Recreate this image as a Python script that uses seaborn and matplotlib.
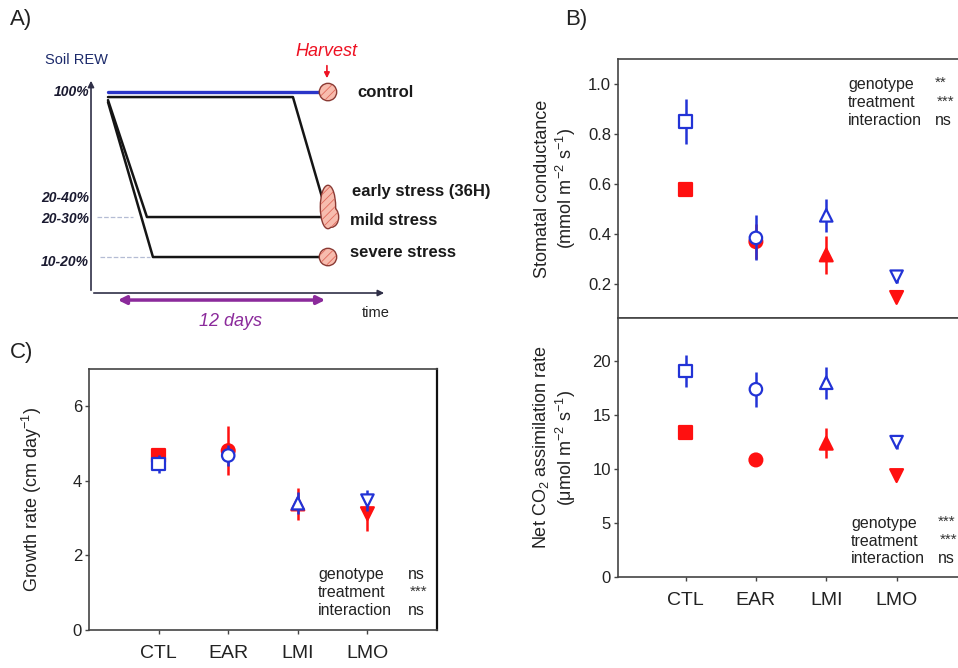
import numpy as np
import pandas as pd
import matplotlib
matplotlib.use('Agg')
import matplotlib.pyplot as plt
from matplotlib.patches import Ellipse
import seaborn as sns

# data
genotypes = ['CTL', 'EAR', 'LMI', 'LMO']
marker_map = {'CTL': 's', 'EAR': 'o', 'LMI': '^', 'LMO': 'v'}

gs_ctrl = [0.85, 0.385, 0.475, 0.23]
gs_ctrl_err = [0.09, 0.09, 0.065, 0.025]
gs_stress = [0.577, 0.37, 0.317, 0.147]
gs_stress_err = [0.0, 0.07, 0.075, 0.0]

assim_ctrl = [19.07, 17.4, 18.0, 12.5]
assim_ctrl_err = [1.5, 1.6, 1.5, 0.6]
assim_stress = [13.4, 10.85, 12.4, 9.4]
assim_stress_err = [0.3, 0.3, 1.4, 0.3]

growth_ctrl = [4.45, 4.68, 3.40, 3.47]
growth_ctrl_err = [0.25, 0.27, 0.30, 0.28]
growth_stress = [4.68, 4.81, 3.38, 3.12]
growth_stress_err = [0.1, 0.66, 0.44, 0.47]

stats_gs = [('genotype', '**'), ('treatment', '***'), ('interaction', 'ns')]
stats_assim = [('genotype', '***'), ('treatment', '***'), ('interaction', 'ns')]
stats_growth = [('genotype', 'ns'), ('treatment', '***'), ('interaction', 'ns')]

# schematic (panel A): time in days, soil water level in schematic units
control_t = [0, 11.98]
control_y = [100, 100]
early_t = [0, 10.45, 12.09]
early_y = [97.5, 97.5, 47.8]
mild_t = [0, 2.2, 12.09]
mild_y = [96, 37.8, 37.8]
severe_t = [0, 2.54, 12.09]
severe_y = [95, 17.9, 17.9]
rew_labels = ['100%', '20-40%', '20-30%', '10-20%']
rew_label_y = [100, 47.3, 36.8, 15.4]
treat_labels = ['control', 'early stress (36H)', 'mild stress', 'severe stress']
treat_label_t = [14.07, 13.8, 13.7, 13.7]
treat_label_y = [100, 50.7, 36.3, 20.4]

BLUE = '#2233d6'
RED = '#ff1010'

sns.set_theme(style='ticks')
plt.rcParams['font.family'] = ['Liberation Sans', 'DejaVu Sans']
plt.rcParams['mathtext.default'] = 'regular'
plt.rcParams['axes.edgecolor'] = '#444444'
plt.rcParams['axes.linewidth'] = 1.2
plt.rcParams['hatch.linewidth'] = 0.6

pos = np.arange(len(genotypes))


def make_df(ctrl, ctrl_err, stress, stress_err):
	return pd.DataFrame({'genotype': genotypes * 2,
						 'pos': list(pos) * 2,
						 'treatment': ['control'] * 4 + ['stress'] * 4,
						 'value': ctrl + stress,
						 'err': ctrl_err + stress_err})


def draw_points(ax, df):
	z = 3
	for treatment, color, face, size in [('stress', RED, RED, 85),
										 ('control', BLUE, 'white', 80)]:
		sub = df[df['treatment'] == treatment]
		ax.errorbar(sub['pos'], sub['value'], yerr=sub['err'], fmt='none',
					ecolor=color, elinewidth=1.8, capsize=0, zorder=z)
		sns.scatterplot(data=sub, x='pos', y='value', style='genotype',
						markers=marker_map, style_order=genotypes,
						color=color, facecolor=face, edgecolor=color,
						linewidth=1.6, s=size, legend=False, ax=ax, zorder=z + 1)
		z += 2
	ax.set_xlabel('')


def add_stats(ax, rows, x0, x1, y0, dy):
	for i, (name, sig) in enumerate(rows):
		y = y0 - i * dy
		ax.text(x0, y, name, transform=ax.transAxes, fontsize=11.5,
				va='center', ha='left', color='#222222')
		if sig == 'ns':
			ax.text(x1, y, sig, transform=ax.transAxes, fontsize=11.5,
					va='center', ha='left', color='#222222')
		else:
			ax.text(x1 + 0.006 * i, y + 0.004, sig, transform=ax.transAxes,
					fontsize=11, va='center', ha='left', color='#333333')


def style_axis(ax):
	ax.tick_params(axis='both', direction='out', length=3, width=1,
				   labelsize=12, pad=2, colors='#444444', labelcolor='#222222')


def harvest_mark(ax, xy, w, h):
	# outline underneath, hatched fill on top so touching marks merge
	ax.add_patch(Ellipse(xy, w, h, facecolor='none', edgecolor='#8a3a34',
						 lw=2, zorder=5))
	ax.add_patch(Ellipse(xy, w, h, facecolor='#f7bcae', edgecolor='#e06a5c',
						 hatch='////', lw=0, zorder=6))


fig = plt.figure(figsize=(9.58, 6.68), dpi=100)

# ---- panel A (schematic)
axA = fig.add_axes([0, 0.5, 0.501, 0.5])
axA.set_xlim(-6.102, 21.017)
axA.set_ylim(-20.4, 145.8)
axA.axis('off')

axA.annotate('', xy=(-0.96, 107), xytext=(-0.96, 0),
			 arrowprops=dict(arrowstyle='-|>', color='#303048', lw=1.2, mutation_scale=9))
axA.annotate('', xy=(15.76, 0), xytext=(-0.96, 0),
			 arrowprops=dict(arrowstyle='-|>', color='#303048', lw=1.2, mutation_scale=9))
axA.plot([-0.62, 1.41], [37.8, 37.8], ls='--', color='#b4bcd4', lw=0.9)
axA.plot([-0.45, 2.4], [17.9, 17.9], ls='--', color='#b4bcd4', lw=0.9)

axA.plot(control_t, control_y, color='#2a35c8', lw=2.4)
for t, y in [(early_t, early_y), (mild_t, mild_y), (severe_t, severe_y)]:
	axA.plot(t, y, color='#151515', lw=1.8)

harvest_mark(axA, (12.43, 100), 0.904, 7.96)
harvest_mark(axA, (12.62, 37.8), 0.75, 9.5)
harvest_mark(axA, (12.43, 42.8), 0.79, 20.9)
harvest_mark(axA, (12.43, 17.9), 0.904, 7.96)

for lab, y in zip(rew_labels, rew_label_y):
	axA.text(-1.07, y, lab, ha='right', va='center', fontsize=10,
			 fontweight='bold', fontstyle='italic', color='#1a1a30')
for lab, t, y in zip(treat_labels, treat_label_t, treat_label_y):
	axA.text(t, y, lab, ha='left', va='center', fontsize=12,
			 fontweight='bold', color='#1a1a1a')

axA.text(-3.56, 116, 'Soil REW', ha='left', va='center', fontsize=10.5, color='#1c2a6b')
axA.text(12.37, 120, 'Harvest', ha='center', va='center', fontsize=13,
		 fontstyle='italic', color='#ee1122')
axA.annotate('', xy=(12.37, 105.5), xytext=(12.37, 114.5),
			 arrowprops=dict(arrowstyle='-|>', color='#ee1122', lw=1.2, mutation_scale=8))
axA.annotate('', xy=(12.43, -3.5), xytext=(0.4, -3.5),
			 arrowprops=dict(arrowstyle='<|-|>', color='#8b2a9b', lw=2.5, mutation_scale=12))
axA.text(6.9, -14.4, '12 days', ha='center', va='center', fontsize=13,
		 fontstyle='italic', color='#8b2a9b')
axA.text(14.35, -10, 'time', ha='left', va='center', fontsize=10.5, color='#222222')

# ---- panel B top: stomatal conductance
axB1 = fig.add_axes([0.6451, 0.5240, 0.3591, 0.3877])
draw_points(axB1, make_df(gs_ctrl, gs_ctrl_err, gs_stress, gs_stress_err))
axB1.set_xlim(-0.96, 3.93)
axB1.set_ylim(0.065, 1.1)
axB1.set_yticks([0.2, 0.4, 0.6, 0.8, 1.0])
axB1.set_yticklabels(['0.2', '0.4', '0.6', '0.8', '1.0'])
axB1.set_xticks([])
axB1.set_ylabel('Stomatal conductance\n(mmol m$^{-2}$ s$^{-1}$)', fontsize=13, color='#222222')
axB1.yaxis.set_label_coords(-0.115, 0.5)
style_axis(axB1)
add_stats(axB1, stats_gs, 0.669, 0.92, 0.903, 0.071)

# ---- panel B bottom: net CO2 assimilation
axB2 = fig.add_axes([0.6451, 0.1362, 0.3591, 0.3877])
draw_points(axB2, make_df(assim_ctrl, assim_ctrl_err, assim_stress, assim_stress_err))
axB2.set_xlim(-0.96, 3.93)
axB2.set_ylim(0, 24)
axB2.set_yticks([0, 5, 10, 15, 20])
axB2.set_xticks(pos)
axB2.set_xticklabels(genotypes)
axB2.set_ylabel('Net CO$_2$ assimilation rate\n(μmol m$^{-2}$ s$^{-1}$)', fontsize=13, color='#222222')
axB2.yaxis.set_label_coords(-0.115, 0.5)
style_axis(axB2)
axB2.tick_params(axis='x', labelsize=14, pad=8)
add_stats(axB2, stats_assim, 0.677, 0.93, 0.208, 0.069)

# ---- panel C: growth rate
axC = fig.add_axes([0.0929, 0.0569, 0.3633, 0.3907])
draw_points(axC, make_df(growth_ctrl, growth_ctrl_err, growth_stress, growth_stress_err))
axC.set_xlim(-1, 4)
axC.set_ylim(0, 7)
axC.set_yticks([0, 2, 4, 6])
axC.set_xticks(pos)
axC.set_xticklabels(genotypes)
axC.set_ylabel('Growth rate (cm day$^{-1}$)', fontsize=13, color='#222222')
axC.yaxis.set_label_coords(-0.13, 0.5)
axC.spines['right'].set_color('#111111')
axC.spines['right'].set_linewidth(1.6)
style_axis(axC)
axC.tick_params(axis='x', labelsize=14, pad=8)
add_stats(axC, stats_growth, 0.658, 0.915, 0.211, 0.069)

# panel letters
fig.text(10 / 958, 1 - 20 / 668, 'A)', fontsize=16, va='center', ha='left', color='#222222')
fig.text(565 / 958, 1 - 20 / 668, 'B)', fontsize=16, va='center', ha='left', color='#222222')
fig.text(10 / 958, 1 - 352 / 668, 'C)', fontsize=16, va='center', ha='left', color='#222222')

fig.savefig('out.png', dpi=100)
